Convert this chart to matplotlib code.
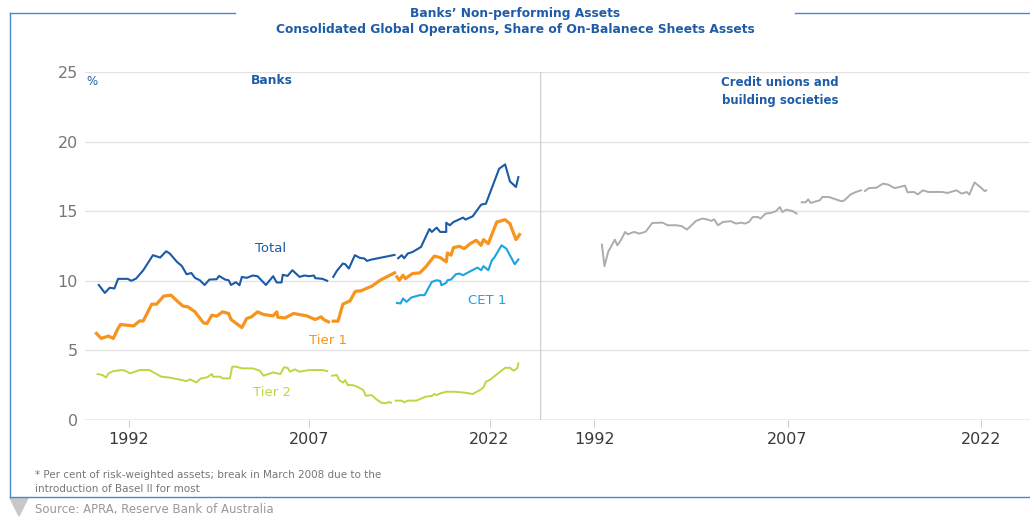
import matplotlib.pyplot as plt
import matplotlib.patches as mpatches
from matplotlib.lines import Line2D
import numpy as np

nan = float('nan')

# Banks - Total (nan marks the breaks in the series)
total_years = [1989.5, 1990.0, 1990.4, 1990.8, 1991.1, 1991.9, 1992.2, 1992.6, 1993.2, 1994.0,
               1994.6, 1995.1, 1995.4, 1996.0, 1996.4, 1996.8, 1997.2, 1997.5, 1997.9, 1998.3,
               1998.7, 1999.3, 1999.5, 2000.0, 2000.3, 2000.5, 2000.9, 2001.2, 2001.4, 2001.8,
               2002.3, 2002.7, 2003.4, 2004.0, 2004.3, 2004.7, 2004.8, 2005.2, 2005.6, 2006.2,
               2006.6, 2007.0, 2007.4, 2007.5, 2008.1, 2008.5, 2008.7,
               2009.0, 2009.3, 2009.8, 2010.0, 2010.3, 2010.8, 2011.2, 2011.6, 2011.8, 2012.2,
               2013.3, 2014.1, 2014.2,
               2014.4, 2014.7, 2014.9, 2015.2, 2015.6, 2016.3, 2017.0, 2017.2, 2017.6, 2017.9,
               2018.4, 2018.4, 2018.7, 2019.0, 2019.8, 2020.0, 2020.6, 2021.3, 2021.7, 2022.8,
               2023.3, 2023.7, 2024.2, 2024.4]
total_vals = [9.7, 9.13, 9.5, 9.45, 10.14, 10.14, 10.0, 10.16, 10.76, 11.84,
              11.67, 12.12, 11.96, 11.36, 11.07, 10.47, 10.56, 10.21, 10.04, 9.7,
              10.09, 10.11, 10.35, 10.09, 10.04, 9.7, 9.9, 9.68, 10.28, 10.21,
              10.38, 10.33, 9.7, 10.33, 9.88, 9.88, 10.43, 10.35, 10.76, 10.28,
              10.38, 10.33, 10.38, 10.19, 10.14, 10.0, nan,
              10.28, 10.71, 11.24, 11.19, 10.88, 11.84, 11.65, 11.6, 11.43, 11.53,
              11.72, 11.86, nan,
              11.62, 11.84, 11.62, 11.96, 12.07, 12.43, 13.72, 13.51, 13.82, 13.51,
              13.51, 14.17, 13.99, 14.22, 14.54, 14.4, 14.63, 15.47, 15.54, 18.05,
              18.36, 17.14, 16.74, 17.45]

# Tier 1
tier1_years = [1989.3, 1989.7, 1990.3, 1990.7, 1991.1, 1991.3, 1992.4, 1992.9, 1993.2, 1993.9,
               1994.3, 1994.9, 1995.5, 1996.0, 1996.5, 1996.9, 1997.5, 1998.2, 1998.5, 1998.9,
               1999.3, 1999.8, 2000.3, 2000.5, 2001.4, 2001.8, 2002.2, 2002.7, 2003.2, 2004.0,
               2004.3, 2004.4, 2005.0, 2005.7, 2006.8, 2007.5, 2008.0, 2008.2, 2008.6, 2008.8,
               2009.0, 2009.4, 2009.8, 2010.4, 2010.8, 2010.9, 2011.3, 2012.2, 2012.9, 2014.1,
               2014.2,
               2014.3, 2014.5, 2014.8, 2015.0, 2015.6, 2016.2, 2016.7, 2017.4, 2017.9, 2018.4,
               2018.5, 2018.8, 2019.0, 2019.5, 2019.9, 2020.4, 2020.9, 2021.3, 2021.5, 2021.9,
               2022.6, 2023.3, 2023.7, 2024.2, 2024.5]
tier1_vals = [6.22, 5.86, 6.03, 5.86, 6.58, 6.86, 6.76, 7.12, 7.12, 8.32,
              8.32, 8.9, 8.97, 8.56, 8.18, 8.13, 7.77, 6.98, 6.93, 7.53,
              7.46, 7.77, 7.65, 7.22, 6.64, 7.29, 7.41, 7.77, 7.58, 7.48,
              7.77, 7.37, 7.34, 7.65, 7.48, 7.22, 7.41, 7.22, 7.05, nan,
              7.1, 7.1, 8.32, 8.56, 9.2, 9.25, 9.28, 9.61, 10.04, 10.57,
              nan,
              10.28, 10.04, 10.4, 10.16, 10.52, 10.57, 11.0, 11.77, 11.67, 11.36,
              12.0, 11.84, 12.38, 12.48, 12.31, 12.67, 12.91, 12.55, 12.96, 12.67,
              14.22, 14.39, 14.1, 12.96, 13.32]

# CET 1
cet1_years = [2014.3, 2014.6, 2014.8, 2015.1, 2015.5, 2016.2, 2016.6, 2017.2, 2017.6, 2017.9,
              2018.0, 2018.4, 2018.5, 2018.8, 2019.2, 2019.5, 2019.8, 2020.3, 2021.0, 2021.3,
              2021.5, 2021.9, 2022.2, 2022.4, 2023.0, 2023.4, 2024.1, 2024.4]
cet1_vals = [8.41, 8.37, 8.73, 8.49, 8.8, 8.97, 8.97, 9.92, 10.04, 9.99,
             9.68, 9.85, 10.04, 10.09, 10.47, 10.52, 10.4, 10.64, 10.95, 10.76,
             11.05, 10.76, 11.48, 11.67, 12.55, 12.31, 11.19, 11.53]

# Tier 2
tier2_years = [1989.4, 1989.8, 1990.1, 1990.3, 1990.7, 1991.4, 1991.7, 1992.1, 1992.9, 1993.7,
               1994.7, 1995.3, 1996.0, 1996.8, 1997.1, 1997.6, 1998.0, 1998.5, 1998.9, 1999.0,
               1999.6, 1999.8, 2000.4, 2000.6, 2000.9, 2001.4, 2002.3, 2002.9, 2003.2, 2004.0,
               2004.6, 2004.9, 2005.2, 2005.4, 2005.8, 2006.2, 2007.0, 2008.1, 2008.5, 2008.7,
               2008.9, 2009.3, 2009.5, 2009.8, 2010.0, 2010.2, 2010.6, 2011.0, 2011.5, 2011.7,
               2012.2, 2012.6, 2013.0, 2013.4, 2013.6, 2013.8, 2014.0,
               2014.2, 2014.7, 2014.9, 2015.2, 2015.9, 2016.7, 2017.2, 2017.4, 2017.6, 2017.9,
               2018.4, 2019.0, 2019.8, 2020.6, 2021.2, 2021.5, 2021.7, 2022.1, 2022.6, 2023.3,
               2023.7, 2024.0, 2024.3, 2024.4]
tier2_vals = [3.3, 3.23, 3.06, 3.35, 3.51, 3.59, 3.54, 3.35, 3.59, 3.59,
              3.11, 3.06, 2.94, 2.8, 2.92, 2.7, 2.99, 3.06, 3.3, 3.11,
              3.11, 2.99, 2.99, 3.83, 3.83, 3.71, 3.71, 3.54, 3.18, 3.42,
              3.3, 3.78, 3.75, 3.47, 3.64, 3.47, 3.59, 3.59, 3.51, nan,
              3.18, 3.23, 2.87, 2.68, 2.87, 2.51, 2.51, 2.39, 2.15, 1.74,
              1.79, 1.48, 1.24, 1.2, 1.29, 1.24, nan,
              1.39, 1.39, 1.27, 1.39, 1.39, 1.68, 1.72, 1.87, 1.79, 1.91,
              2.03, 2.03, 1.98, 1.87, 2.15, 2.34, 2.75, 2.92, 3.28, 3.75,
              3.75, 3.54, 3.71, 4.07]

# Credit unions and building societies
cu_years = [1992.6, 1992.8, 1993.1, 1993.3, 1993.6, 1993.8, 1994.1, 1994.4, 1994.6, 1995.1,
            1995.5, 1996.0, 1996.5, 1997.3, 1997.7, 1998.4, 1998.8, 1999.2, 1999.9, 2000.4,
            2000.8, 2001.1, 2001.3, 2001.6, 2002.0, 2002.6, 2003.0, 2003.4, 2003.7, 2004.0,
            2004.3, 2004.7, 2004.9, 2005.3, 2005.7, 2006.1, 2006.4, 2006.6, 2006.9, 2007.4,
            2007.7, 2007.9,
            2008.1, 2008.4, 2008.6, 2008.8, 2009.2, 2009.5, 2009.7, 2010.2, 2010.8, 2011.2,
            2011.4, 2011.9, 2012.3, 2012.7, 2012.85,
            2013.0, 2013.3, 2013.9, 2014.4, 2014.8, 2015.3, 2015.7, 2016.1, 2016.3, 2016.8,
            2017.1, 2017.5, 2017.9, 2019.0, 2019.4, 2020.1, 2020.5, 2020.9, 2021.1, 2021.5,
            2022.0, 2022.3, 2022.4]
cu_vals = [12.6, 11.05, 12.12, 12.43, 12.96, 12.55, 12.96, 13.51, 13.34, 13.51,
           13.39, 13.53, 14.15, 14.18, 13.99, 13.99, 13.92, 13.68, 14.3, 14.47,
           14.4, 14.3, 14.42, 13.99, 14.23, 14.28, 14.11, 14.18, 14.11, 14.23,
           14.58, 14.58, 14.47, 14.83, 14.87, 15.01, 15.3, 14.94, 15.11, 15.01,
           14.83, nan,
           15.64, 15.64, 15.85, 15.59, 15.71, 15.78, 16.02, 16.02, 15.83, 15.71,
           15.78, 16.21, 16.38, 16.5, nan,
           16.45, 16.66, 16.69, 16.98, 16.91, 16.66, 16.74, 16.84, 16.36, 16.38,
           16.21, 16.5, 16.38, 16.38, 16.31, 16.5, 16.26, 16.38, 16.19, 17.07,
           16.69, 16.43, 16.5]

year_ticks = [1992, 2007, 2022]
y_ticks = [0, 5, 10, 15, 20, 25]

BLUE_TITLE = '#1f5ca8'
FRAME = '#4a86c8'
GRID = '#e3e3e3'

plt.rcParams['font.family'] = ['DejaVu Sans']

W, H = 1030, 520
fig = plt.figure(figsize=(W / 100, H / 100), dpi=100)


def fx(px):
    return px / W


def fy(py):
    return 1 - py / H


ax1 = fig.add_axes([fx(85), fy(420), fx(540) - fx(85), fy(72) - fy(420)])
ax2 = fig.add_axes([fx(540), fy(420), fx(1030) - fx(540), fy(72) - fy(420)])

ax1.plot(total_years, total_vals, color='#1b5aa6', lw=1.5)
ax1.plot(tier1_years, tier1_vals, color='#f7941d', lw=2.3)
ax1.plot(cet1_years, cet1_vals, color='#1ca3e0', lw=1.5)
ax1.plot(tier2_years, tier2_vals, color='#bad845', lw=1.4)
ax2.plot(cu_years, cu_vals, color='#a9adb2', lw=1.4)

ax1.set_xlim(1988.35, 2026.2)
ax2.set_xlim(1987.8, 2025.8)

for ax in (ax1, ax2):
    ax.set_ylim(0, 25)
    ax.set_yticks(y_ticks)
    ax.set_xticks(year_ticks)
    ax.set_xticklabels([str(y) for y in year_ticks], fontsize=11.5, color='#3a3a3a')
    ax.grid(axis='y', color=GRID, lw=1)
    ax.set_axisbelow(True)
    for s in ax.spines.values():
        s.set_visible(False)
    ax.tick_params(axis='x', length=5, width=0.8, color='#cccccc', pad=4)
    ax.tick_params(axis='y', length=0)
    ax.patch.set_alpha(0)

ax1.set_yticklabels([str(v) for v in y_ticks], fontsize=11.5, color='#777777')
ax1.tick_params(axis='y', pad=5)
ax2.set_yticklabels([])
ax2.axhline(0, color='#bbbbbb', lw=1)
ax1.axhline(0, color='#bbbbbb', lw=1)
ax2.axvline(ax2.get_xlim()[0], color='#cfcfcf', lw=1)

# panel and series labels
ax1.text(1988.9, 24.3, '%', color=BLUE_TITLE, fontsize=8.5, ha='center', va='center')
ax1.text(2003.9, 24.4, 'Banks', color=BLUE_TITLE, fontsize=8.8, fontweight='bold',
         ha='center', va='center')
ax2.text(2006.4, 23.6, 'Credit unions and\nbuilding societies', color=BLUE_TITLE,
         fontsize=8.5, fontweight='bold', ha='center', va='center', linespacing=1.45)
ax1.text(2003.8, 12.3, 'Total', color='#1b5aa6', fontsize=9.5, ha='center', va='center')
ax1.text(2021.8, 8.6, 'CET 1', color='#1ca3e0', fontsize=9.5, ha='center', va='center')
ax1.text(2008.6, 5.74, 'Tier 1', color='#f7941d', fontsize=9.5, ha='center', va='center')
ax1.text(2003.9, 1.94, 'Tier 2', color='#bad845', fontsize=9.5, ha='center', va='center')

# title
fig.text(0.5, fy(13), 'Banks\u2019 Non-performing Assets', color=BLUE_TITLE, fontsize=8.8,
         fontweight='bold', ha='center', va='center')
fig.text(0.5, fy(30), 'Consolidated Global Operations, Share of On-Balanece Sheets Assets',
         color=BLUE_TITLE, fontsize=8.8, fontweight='bold', ha='center', va='center')

# frame
frame_kw = dict(color=FRAME, lw=1.0, transform=fig.transFigure)
fig.add_artist(Line2D([fx(10), fx(235)], [fy(13), fy(13)], **frame_kw))
fig.add_artist(Line2D([fx(795), fx(1030)], [fy(13), fy(13)], **frame_kw))
fig.add_artist(Line2D([fx(10), fx(10)], [fy(13), fy(497)], **frame_kw))
fig.add_artist(Line2D([fx(10), fx(1030)], [fy(497), fy(497)], **frame_kw))
fig.add_artist(mpatches.Polygon([[fx(10), fy(498)], [fx(28), fy(498)], [fx(19), fy(516)]],
                                closed=True, color='#c8c8c8', transform=fig.transFigure))

# notes
fig.text(fx(35), fy(475), '* Per cent of risk-weighted assets; break in March 2008 due to the',
         color='#777777', fontsize=7.5, ha='left', va='center')
fig.text(fx(35), fy(489), 'introduction of Basel II for most', color='#777777', fontsize=7.5,
         ha='left', va='center')
fig.text(fx(35), fy(509), 'Source: APRA, Reserve Bank of Australia', color='#999999',
         fontsize=8.5, ha='left', va='center')

fig.savefig('out.png', dpi=100)
